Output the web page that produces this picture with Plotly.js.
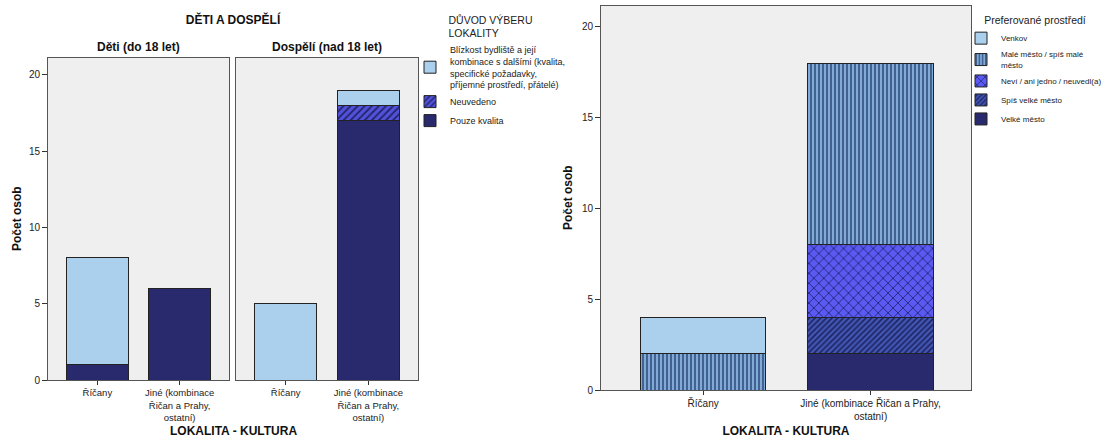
<!DOCTYPE html>
<html>
<head>
<meta charset="utf-8">
<script src="https://cdn.plot.ly/plotly-3.0.1.min.js"></script>
<style>html,body{margin:0;padding:0;background:#fff}#chart{width:1111px;height:438px}</style>
</head>
<body>
<div id="chart"></div>
<script>
// ---------- DATA ----------
const categories = ["Říčany", "Jiné"];
const leftTickLabels = ["Říčany", "Jiné (kombinace<br>Řičan a Prahy,<br>ostatní)"];
const rightTickLabels = ["Říčany", "Jiné (kombinace Řičan a Prahy,<br>ostatní)"];
const panelTitles = ["Děti (do 18 let)", "Dospělí (nad 18 let)"];

// Left chart: DŮVOD VÝBERU LOKALITY (stack bottom -> top)
const leftSeriesNames = [
  "Pouze kvalita",
  "Neuvedeno",
  "Blízkost bydliště a její<br>kombinace s dalšími (kvalita,<br>specifické požadavky,<br>příjemné prostředí, přátelé)"
];
const detiPouzeKvalita = [1, 6];
const detiNeuvedeno = [0, 0];
const detiBlizkost = [7, 0];
const dospeliPouzeKvalita = [0, 17];
const dospeliNeuvedeno = [0, 1];
const dospeliBlizkost = [5, 1];

// Right chart: Preferované prostředí (stack bottom -> top)
const rightSeriesNames = ["Velké město", "Spíš velké město", "Neví / ani jedno / neuvedl(a)", "Malé město / spíš malé<br>město", "Venkov"];
const velkeMesto = [0, 2];
const spisVelkeMesto = [0, 2];
const nevi = [0, 4];
const maleMesto = [2, 10];
const venkov = [2, 0];

// ---------- STYLES ----------
const FONT = "Liberation Sans, Arial, sans-serif";
const lineStyle = {color: "#222", width: 1};
const leftStyles = [
  {color: "#29296e"},
  {color: "#5252dc", pattern: {shape: "/", fgcolor: "#24246a", bgcolor: "#5252dc", size: 5, solidity: 0.35, fillmode: "replace"}},
  {color: "#abd0ee"}
];
const rightStyles = [
  {color: "#29296e"},
  {color: "#3a4aa0", pattern: {shape: "/", fgcolor: "#1e2462", bgcolor: "#4256b4", size: 4, solidity: 0.4, fillmode: "replace"}},
  {color: "#5858ee", pattern: {shape: "x", fgcolor: "#262680", bgcolor: "#5a5af2", size: 7, solidity: 0.25, fillmode: "replace"}},
  {color: "#7ea6d2", pattern: {shape: "|", fgcolor: "#3a5a88", bgcolor: "#82aad6", size: 4, solidity: 0.45, fillmode: "replace"}},
  {color: "#abd0ee"}
];

const nz = arr => arr.map(v => v === 0 ? null : v);

const traces = [];
const detiSeries = [detiPouzeKvalita, detiNeuvedeno, detiBlizkost];
const dospeliSeries = [dospeliPouzeKvalita, dospeliNeuvedeno, dospeliBlizkost];
leftSeriesNames.forEach((name, i) => {
  const marker = Object.assign({line: lineStyle}, leftStyles[i]);
  traces.push({type: "bar", name: name, x: categories, y: nz(detiSeries[i]), xaxis: "x", yaxis: "y",
    marker: marker, legend: "legend", legendgroup: "L" + i, showlegend: true, hoverinfo: "y+name"});
  traces.push({type: "bar", name: name, x: categories, y: nz(dospeliSeries[i]), xaxis: "x2", yaxis: "y2",
    marker: marker, legend: "legend", legendgroup: "L" + i, showlegend: false, hoverinfo: "y+name"});
});
const rightSeries = [velkeMesto, spisVelkeMesto, nevi, maleMesto, venkov];
rightSeriesNames.forEach((name, i) => {
  const marker = Object.assign({line: lineStyle}, rightStyles[i]);
  traces.push({type: "bar", name: name, x: categories, y: nz(rightSeries[i]), xaxis: "x3", yaxis: "y3",
    marker: marker, legend: "legend2", showlegend: true, hoverinfo: "y+name"});
});

const W = 1111, H = 438;
const px = v => v / W;
const py = v => 1 - v / H;

const baseX = {
  type: "category", range: [-0.6, 1.6], showline: true, mirror: true, linecolor: "#555", linewidth: 1,
  ticks: "outside", ticklen: 4, tickcolor: "#333", showgrid: false, zeroline: false,
  tickfont: {family: FONT, size: 9.5, color: "#222"}, automargin: false, fixedrange: true
};
const baseY = {
  range: [0, 21.1], tickvals: [0, 5, 10, 15, 20], showline: true, mirror: true, linecolor: "#555", linewidth: 1,
  ticks: "outside", ticklen: 5, tickcolor: "#333", showgrid: false, zeroline: false,
  tickfont: {family: FONT, size: 10, color: "#222"}, automargin: false, fixedrange: true
};
const bold12 = {family: FONT, size: 12, color: "#111"};

const layout = {
  width: W, height: H,
  margin: {l: 0, r: 0, t: 0, b: 0, autoexpand: false},
  paper_bgcolor: "#ffffff", plot_bgcolor: "#efefef",
  barmode: "stack", bargap: 0.25,
  font: {family: FONT, size: 10, color: "#222"},
  title: {text: "<b>DĚTI A DOSPĚLÍ</b>", x: px(233), xanchor: "center", xref: "paper", y: py(20), yanchor: "middle", yref: "paper",
    font: bold12},
  xaxis: Object.assign({}, baseX, {domain: [px(48), px(229)], anchor: "y", tickvals: categories, ticktext: leftTickLabels}),
  yaxis: Object.assign({}, baseY, {domain: [py(380), py(58)], anchor: "x"}),
  xaxis2: Object.assign({}, baseX, {domain: [px(236), px(418)], anchor: "y2", tickvals: categories, ticktext: leftTickLabels}),
  yaxis2: Object.assign({}, baseY, {domain: [py(380), py(58)], anchor: "x2", matches: "y", showticklabels: false, ticks: ""}),
  xaxis3: Object.assign({}, baseX, {domain: [px(601), px(971)], anchor: "y3", range: [-0.61, 1.6], tickvals: categories, ticktext: rightTickLabels,
    tickfont: {family: FONT, size: 10, color: "#222"},
    title: {text: "<b>LOKALITA - KULTURA</b>", standoff: 10, font: bold12}}),
  yaxis3: Object.assign({}, baseY, {domain: [py(390), py(6)], anchor: "x3", range: [0, 21.15]}),
  annotations: [
    {text: "<b>" + panelTitles[0] + "</b>", x: px(138), y: py(47), xref: "paper", yref: "paper", showarrow: false,
      xanchor: "center", yanchor: "middle", font: bold12},
    {text: "<b>" + panelTitles[1] + "</b>", x: px(327), y: py(47), xref: "paper", yref: "paper", showarrow: false,
      xanchor: "center", yanchor: "middle", font: bold12},
    {text: "<b>LOKALITA - KULTURA</b>", x: px(233), y: py(431), xref: "paper", yref: "paper", showarrow: false,
      xanchor: "center", yanchor: "middle", font: bold12},
    {text: "<b>Počet osob</b>", x: px(17), y: py(219), xref: "paper", yref: "paper", showarrow: false, textangle: -90,
      xanchor: "center", yanchor: "middle", font: bold12},
    {text: "<b>Počet osob</b>", x: px(568), y: py(198), xref: "paper", yref: "paper", showarrow: false, textangle: -90,
      xanchor: "center", yanchor: "middle", font: bold12}
  ],
  legend: {x: px(410), y: py(10), xanchor: "left", yanchor: "top", traceorder: "reversed",
    title: {text: "DŮVOD VÝBERU<br>LOKALITY", side: "top center", font: {family: FONT, size: 10.5, color: "#222"}},
    font: {family: FONT, size: 9, color: "#222"}, bgcolor: "rgba(0,0,0,0)", itemwidth: 30, tracegroupgap: 0},
  legend2: {x: px(963), y: py(10), xanchor: "left", yanchor: "top", traceorder: "reversed", indentation: -2,
    title: {text: "Preferované prostředí", side: "top center", font: {family: FONT, size: 10.5, color: "#222"}},
    font: {family: FONT, size: 8, color: "#222"}, bgcolor: "rgba(0,0,0,0)", itemwidth: 30}
};

Plotly.newPlot("chart", traces, layout, {displayModeBar: false, staticPlot: true});
</script>
</body>
</html>
